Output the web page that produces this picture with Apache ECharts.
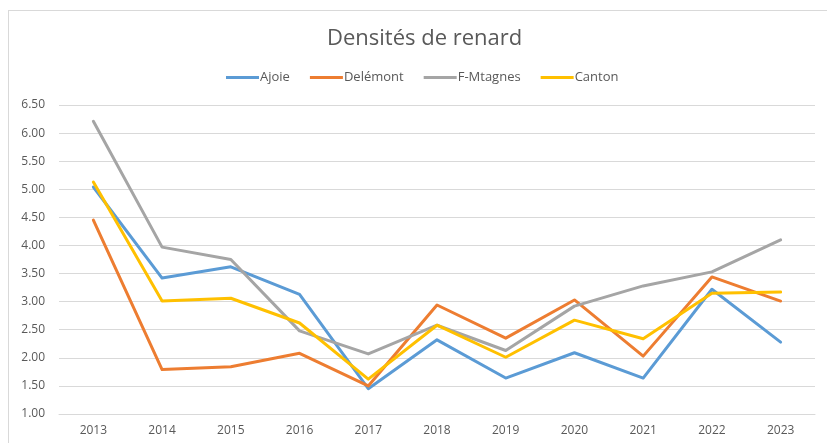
<!DOCTYPE html>
<html>
<head>
<meta charset="utf-8">
<script src="https://cdn.jsdelivr.net/npm/echarts@6/dist/echarts.min.js"></script>
<style>
  html, body { margin: 0; padding: 0; background: #fff; }
  #frame {
    position: absolute; left: 8px; top: 10px; width: 830px; height: 445px;
    border-left: 1px solid #d9d9d9; border-top: 1px solid #d9d9d9;
  }
  #chart { position: absolute; left: 0; top: 0; width: 827px; height: 443px; }
</style>
</head>
<body>
<div id="frame"></div>
<div id="chart"></div>
<script>
// années et densités
const years = ['2013', '2014', '2015', '2016', '2017', '2018', '2019', '2020', '2021', '2022', '2023']
const ajoie = [5.04, 3.42, 3.62, 3.13, 1.45, 2.32, 1.64, 2.09, 1.64, 3.22, 2.28]
const delemont = [4.45, 1.79, 1.84, 2.08, 1.50, 2.94, 2.35, 3.03, 2.03, 3.44, 3.01]
const fMtagnes = [6.21, 3.97, 3.75, 2.48, 2.07, 2.58, 2.13, 2.92, 3.28, 3.53, 4.10]
const canton = [5.13, 3.01, 3.06, 2.62, 1.62, 2.58, 2.01, 2.67, 2.34, 3.15, 3.17]

const myChart = echarts.init(document.getElementById('chart'))

const textColor = '#595959'
const font = 'Open Sans'

function serie (name, data, color) {
  return {
    name: name,
    type: 'line',
    data: data,
    symbol: 'none',
    lineStyle: { width: 3, color: color, cap: 'round', join: 'round' },
    itemStyle: { color: color }
  }
}

const option = {
  animation: false,
  title: {
    text: 'Densités de renard',
    left: 322,
    top: 23,
    textStyle: { color: textColor, fontSize: 22, fontWeight: 'normal', fontFamily: font }
  },
  legend: {
    top: 66,
    left: 221,
    itemWidth: 33,
    itemHeight: 3,
    itemGap: 20,
    icon: 'rect',
    textStyle: { color: textColor, fontSize: 13, fontFamily: font, padding: [0, 0, 0, -4] },
    data: ['Ajoie', 'Delémont', 'F-Mtagnes', 'Canton']
  },
  grid: { left: 59, right: 12, top: 105, bottom: 29 },
  xAxis: {
    type: 'category',
    data: years,
    boundaryGap: true,
    axisLine: { show: true, lineStyle: { color: '#d9d9d9' } },
    axisTick: { show: false },
    axisLabel: { color: textColor, fontSize: 12, fontFamily: font, margin: 11 }
  },
  yAxis: {
    type: 'value',
    min: 1,
    max: 6.5,
    interval: 0.5,
    axisLine: { show: false },
    axisTick: { show: false },
    axisLabel: { color: textColor, fontSize: 12, fontFamily: font, margin: 14, formatter: v => v.toFixed(2) },
    splitLine: { lineStyle: { color: '#d9d9d9', width: 1 } }
  },
  series: [
    serie('Ajoie', ajoie, '#5B9BD5'),
    serie('Delémont', delemont, '#ED7D31'),
    serie('F-Mtagnes', fMtagnes, '#A5A5A5'),
    serie('Canton', canton, '#FFC000')
  ]
}

myChart.setOption(option)
</script>
</body>
</html>
